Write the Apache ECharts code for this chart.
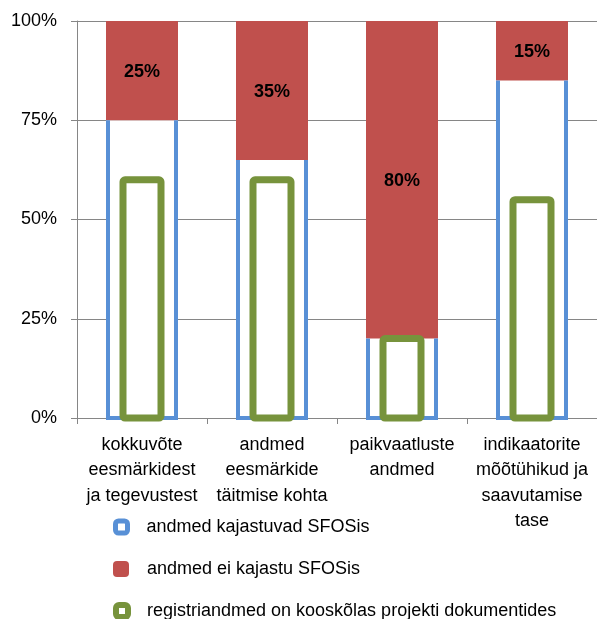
<!DOCTYPE html>
<html>
<head>
<meta charset="utf-8">
<script src="https://cdn.jsdelivr.net/npm/echarts@6/dist/echarts.min.js"></script>
<style>
  html, body { margin: 0; padding: 0; background: #fff; }
  #chart { width: 597px; height: 619px; }
</style>
</head>
<body>
<div id="chart"></div>
<script>
// Categories (line breaks as drawn under the axis)
const categories = [
  'kokkuvõte\neesmärkidest\nja tegevustest',
  'andmed\neesmärkide\ntäitmise kohta',
  'paikvaatluste\nandmed',
  'indikaatorite\nmõõtühikud ja\nsaavutamise\ntase'
];
// Share of data present in SFOS (%)
const reflected = [75, 65, 20, 85];
// Share of data missing from SFOS (%)
const notReflected = [25, 35, 80, 15];
// Register data consistent with project documents (%)
const consistent = [60, 60, 20, 55];
// Value axis ticks (%)
const yTicks = [0, 25, 50, 75, 100];

const seriesNames = [
  'andmed kajastuvad SFOSis',
  'andmed ei kajastu SFOSis',
  'registriandmed on kooskõlas projekti dokumentides'
];

const BLUE = '#5890d6';
const RED = '#c0504d';
const GREEN = '#77933c';
const GRID = '#868686';
const FONT = '"Liberation Sans", Arial, sans-serif';

const BAR_W = 72;        // outer width of the stacked bars
const BLUE_LINE = 4;     // outline of the "present" part
const GREEN_W = 38;      // centre-line width of the inner bar
const GREEN_LINE = 7;

const chart = echarts.init(document.getElementById('chart'), null, { renderer: 'canvas' });

function legendAt(name, top, size, gapPad, style) {
  return {
    data: [{ name: name, itemStyle: style }],
    left: 113,
    top: top,
    orient: 'vertical',
    padding: 0,
    icon: 'roundRect',
    itemWidth: size,
    itemHeight: size,
    selectedMode: false,
    textStyle: { fontFamily: FONT, fontSize: 18, color: '#000', lineHeight: 20, padding: [0, 0, 0, gapPad] }
  };
}

// Open-topped outline around the "present" part (left, bottom and right edges)
function renderBlueOutline(params, api) {
  const i = api.value(0);
  const top = api.coord([i, api.value(1)]);
  const base = api.coord([i, 0]);
  const half = (BAR_W - BLUE_LINE) / 2;
  return {
    type: 'polyline',
    shape: {
      points: [
        [top[0] - half, top[1]],
        [top[0] - half, base[1]],
        [top[0] + half, base[1]],
        [top[0] + half, top[1]]
      ]
    },
    style: { stroke: BLUE, lineWidth: BLUE_LINE, fill: null, lineJoin: 'miter' },
    z2: 5
  };
}

// Hollow inner bar for the consistency share
function renderGreenBar(params, api) {
  const i = api.value(0);
  const top = api.coord([i, api.value(1)]);
  const base = api.coord([i, 0]);
  return {
    type: 'rect',
    shape: { x: top[0] - GREEN_W / 2, y: top[1], width: GREEN_W, height: base[1] - top[1], r: 2 },
    style: { fill: '#fff', stroke: GREEN, lineWidth: GREEN_LINE },
    z2: 10
  };
}

chart.setOption({
  animation: false,
  backgroundColor: '#fff',
  textStyle: { fontFamily: FONT },
  grid: { left: 77, width: 524, top: 21, bottom: 201, containLabel: false },
  legend: [
    legendAt(seriesNames[0], 517, 12, 14, { color: '#fff', borderColor: BLUE, borderWidth: 5 }),
    legendAt(seriesNames[1], 559, 16, 13, { color: RED, borderColor: RED, borderWidth: 0 }),
    legendAt(seriesNames[2], 601, 12, 14, { color: '#fff', borderColor: GREEN, borderWidth: 6 })
  ],
  xAxis: {
    type: 'category',
    data: categories,
    axisLine: { show: true, lineStyle: { color: GRID, width: 1 } },
    axisTick: { show: true, length: 6, lineStyle: { color: GRID } },
    axisLabel: {
      interval: 0,
      margin: 14,
      fontFamily: FONT,
      fontSize: 18,
      lineHeight: 25.5,
      color: '#000',
      align: 'center'
    }
  },
  yAxis: {
    type: 'value',
    min: yTicks[0],
    max: yTicks[yTicks.length - 1],
    interval: yTicks[1] - yTicks[0],
    axisLine: { show: true, lineStyle: { color: GRID, width: 1 } },
    axisTick: { show: true, length: 6, lineStyle: { color: GRID } },
    splitLine: { show: true, lineStyle: { color: GRID, width: 1 } },
    axisLabel: {
      margin: 20,
      fontFamily: FONT,
      fontSize: 18,
      color: '#000',
      formatter: '{value}%'
    }
  },
  series: [
    {
      name: seriesNames[0],
      type: 'bar',
      stack: 'total',
      barWidth: BAR_W,
      data: reflected,
      itemStyle: { color: '#fff', borderWidth: 0 },
      z: 2
    },
    {
      name: seriesNames[1],
      type: 'bar',
      stack: 'total',
      barWidth: BAR_W,
      data: notReflected,
      itemStyle: { color: RED, borderWidth: 0 },
      label: {
        show: true,
        position: 'inside',
        offset: [0, 1.5],
        formatter: '{c}%',
        fontFamily: FONT,
        fontSize: 18,
        fontWeight: 'bold',
        color: '#000'
      },
      z: 3
    },
    {
      name: 'outline',
      type: 'custom',
      renderItem: renderBlueOutline,
      data: reflected.map((v, i) => [i, v]),
      encode: { x: 0, y: 1 },
      clip: false,
      silent: true,
      z: 4
    },
    {
      name: seriesNames[2],
      type: 'custom',
      renderItem: renderGreenBar,
      data: consistent.map((v, i) => [i, v]),
      encode: { x: 0, y: 1 },
      itemStyle: { color: GREEN },
      clip: false,
      z: 5
    }
  ]
});
</script>
</body>
</html>
